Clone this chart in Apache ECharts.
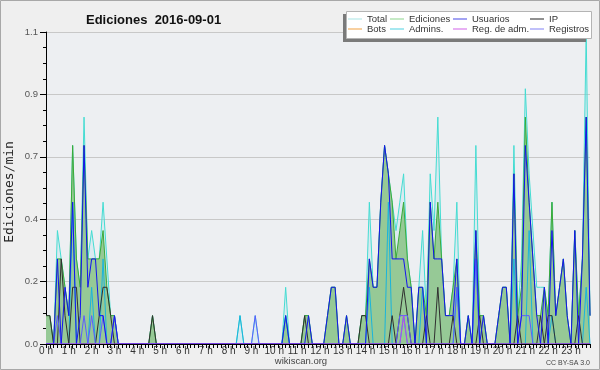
<!DOCTYPE html>
<html><head><meta charset="utf-8">
<script src="https://cdn.jsdelivr.net/npm/echarts@6/dist/echarts.min.js"></script>
<style>html,body{margin:0;padding:0;background:#efefef}#c{width:600px;height:370px}</style>
</head><body><div id="c"></div>
<script>
// ---- data (10-minute buckets, edits per minute) ----
const hourLabels = ["0 h","1 h","2 h","3 h","4 h","5 h","6 h","7 h","8 h","9 h","10 h","11 h",
  "12 h","13 h","14 h","15 h","16 h","17 h","18 h","19 h","20 h","21 h","22 h","23 h"];
const minuteSlots = ["00","10","20","30","40","50"];
const yTickLabels = ["0.0","0.2","0.4","0.7","0.9","1.1"];

const total = [
 .1,.1,0,.4,.3,.2,.1,.7,.3,.2,.8,.3,   .4,.3,.3,.5,.3,.1,.1,0,0,0,0,0,
 0,0,0,0,.1,0,0,0,0,0,0,0,             0,0,0,0,0,0,0,0,0,0,0,0,
 0,0,0,.1,0,0,0,.1,0,0,0,0,            0,0,0,.2,0,0,0,0,.1,.1,0,0,
 0,0,.1,.2,.2,0,0,.1,0,0,0,.1,         .1,.5,.2,.2,.5,.7,.6,.5,.4,.5,.6,.3,
 .2,0,.2,.4,.1,.6,.4,.8,.3,.1,.1,.2,   .5,0,0,.1,0,.7,.1,.1,0,0,0,.1,
 .2,.2,0,.7,.1,.3,.9,.6,.4,.2,.2,.2,   .1,.5,.1,.2,.3,.1,0,.4,.1,.3,1.1,.1];
const ediciones = [
 .1,.1,0,.3,.3,.2,.1,.7,.3,.2,.7,.3,   .3,.3,.3,.4,.2,.1,.1,0,0,0,0,0,
 0,0,0,0,.1,0,0,0,0,0,0,0,             0,0,0,0,0,0,0,0,0,0,0,0,
 0,0,0,0,0,0,0,0,0,0,0,0,              0,0,0,.1,0,0,0,0,.1,.1,0,0,
 0,0,.1,.2,.2,0,0,.1,0,0,0,.1,         .1,.3,.2,.2,.5,.7,.6,.5,.3,.4,.5,.3,
 .2,0,.2,.2,.1,.5,.3,.5,.3,.1,.1,.2,   .3,0,0,.1,0,.4,.1,.1,0,0,0,.1,
 .2,.2,0,.6,.1,.2,.8,.5,.3,.1,.1,.2,   .1,.5,.1,.2,.3,.1,0,.4,.1,.3,.8,.1];
const usuarios = [
 0,0,0,.3,0,.2,.1,.5,0,.1,.7,.2,       .3,.3,.1,.1,0,0,.1,0,0,0,0,0,
 0,0,0,0,0,0,0,0,0,0,0,0,              0,0,0,0,0,0,0,0,0,0,0,0,
 0,0,0,0,0,0,0,0,0,0,0,0,              0,0,0,.1,0,0,0,0,0,.1,0,0,
 0,0,.1,.2,.2,0,0,.1,0,0,0,0,          0,.3,.2,.2,.5,.7,.6,.3,.3,.3,.3,.2,
 .2,0,.2,.2,0,.5,.3,.3,.3,.1,.1,.1,    .3,0,0,.1,0,.4,0,.1,0,0,0,.1,
 .2,.2,0,.6,0,.1,.7,.5,.3,.1,0,.2,     0,.4,.1,.2,.3,.1,0,.4,0,.3,.8,.1];
const ip = [
 .1,.1,0,0,.3,.1,0,.2,.2,0,0,0,        0,0,.1,.2,.2,.1,0,0,0,0,0,0,
 0,0,0,0,.1,0,0,0,0,0,0,0,             0,0,0,0,0,0,0,0,0,0,0,0,
 0,0,0,0,0,0,0,0,0,0,0,0,              0,0,0,0,0,0,0,0,.1,0,0,0,
 0,0,0,0,0,0,0,0,0,0,0,.1,             .1,0,0,0,0,0,0,.1,0,.1,.2,.1,
 0,0,0,0,.1,0,0,.2,0,0,0,.1,           0,0,0,0,0,0,.1,0,0,0,0,0,
 0,0,0,0,.1,0,0,0,0,0,.1,0,            .1,.1,0,0,0,0,0,0,.1,0,0,0];
const bots = [
 0,0,0,0,0,0,0,0,0,0,0,0, 0,0,0,0,0,0,0,0,0,0,0,0,
 0,0,0,0,0,0,0,0,0,0,0,0, 0,0,0,0,0,0,0,0,0,0,0,0,
 0,0,0,0,0,0,0,0,0,0,0,0, 0,0,0,0,0,0,0,0,0,0,0,0,
 0,0,0,0,0,0,0,0,0,0,0,0, 0,0,0,0,0,0,0,0,0,0,0,0,
 0,0,0,0,0,0,0,0,0,0,0,0, 0,0,0,0,0,0,0,0,0,0,0,0,
 0,0,0,0,0,0,0,0,0,0,0,0, 0,0,0,0,0,0,0,0,0,0,0,0];
const admins = [
 0,0,0,0,0,0,0,.5,0,0,0,0,             .2,0,0,.3,0,0,0,0,0,0,0,0,
 0,0,0,0,0,0,0,0,0,0,0,0,              0,0,0,0,0,0,0,0,0,0,0,0,
 0,0,0,.1,0,0,0,0,0,0,0,0,             0,0,0,.1,0,0,0,0,0,0,0,0,
 0,0,0,0,0,0,0,0,0,0,0,0,              0,.2,0,0,0,0,.5,0,0,0,.1,0,
 0,0,0,.2,0,0,0,0,0,0,0,0,             .2,0,0,0,0,.3,0,0,0,0,0,0,
 0,0,0,.3,0,0,0,.4,0,0,0,0,            0,.1,0,0,0,0,0,0,0,0,.2,0];
const regAdm = [
 0,0,0,0,0,0,0,0,0,0,0,0, 0,0,0,0,0,0,0,0,0,0,0,0,
 0,0,0,0,0,0,0,0,0,0,0,0, 0,0,0,0,0,0,0,0,0,0,0,0,
 0,0,0,0,0,0,0,0,0,0,0,0, 0,0,0,0,0,0,0,0,0,0,0,0,
 0,0,0,0,0,0,0,0,0,0,0,0, 0,0,0,0,0,0,0,0,0,0,.1,0,
 0,0,0,0,0,0,0,0,0,0,0,0, 0,0,0,0,0,0,0,0,0,0,0,0,
 0,0,0,0,0,0,0,0,0,0,0,0, 0,0,0,0,0,0,0,0,0,0,0,0];
const registros = [
 0,0,0,.1,0,0,0,0,0,0,.1,0,            .1,0,0,.1,0,0,.1,0,0,0,0,0,
 0,0,0,0,0,0,0,0,0,0,0,0,              0,0,0,0,0,0,0,0,0,0,0,0,
 0,0,0,0,0,0,0,.1,0,0,0,0,             0,0,0,0,0,0,0,0,0,0,0,0,
 0,0,0,0,0,0,0,0,0,0,0,0,              0,0,0,0,0,0,0,0,0,.1,.1,.1,
 0,0,0,0,0,0,0,0,0,0,0,0,              .2,0,0,0,0,.3,0,0,0,0,0,0,
 0,0,0,0,0,.1,.1,.1,0,0,0,0,           0,0,0,0,0,0,0,0,0,0,0,0];

const seriesNames = ["Total","Ediciones","Usuarios","IP","Bots","Admins.","Reg. de adm.","Registros"];
const seriesColors = ["#44dcd2","#3aaa3a","#1414ee","#303030","#f39a2a","#1ab4dc","#c040f0","#5c5cff"];
const legendColors = ["#a8e4e4","#8cd48c","#4646e6","#222222","#f0a040","#4cd0e0","#d060e8","#8080f4"];

// categories built from the hour / minute labels
const categories = [];
hourLabels.forEach(h => minuteSlots.forEach(m => categories.push(h.replace(' h','') + ':' + m)));

const chart = echarts.init(document.getElementById('c'), null, {renderer:'canvas'});
const FONT = 'Liberation Sans';

function lineSeries(name, data, idx, z, extra) {
  return Object.assign({
    name, type:'line', data, symbol:'none', z,
    lineStyle:{width:1, color:seriesColors[idx]},
    itemStyle:{color:seriesColors[idx]},
    emphasis:{disabled:true}, animation:false
  }, extra || {});
}

const legendX = [348, 390, 453, 530];
const legendY = [14, 24];
const legends = seriesNames.map((n, k) => ({
  data:[{name:n, itemStyle:{color:legendColors[k]}}],
  left: legendX[k % 4], top: legendY[Math.floor(k / 4)],
  icon:'rect', itemWidth:14, itemHeight:1, itemGap:0, padding:0,
  selectedMode:false, z:200,
  textStyle:{fontFamily:FONT, fontSize:9.5, color:'#333'}
}));

chart.setOption({
  backgroundColor:'#efefef',
  animation:false,
  title:{text:'Ediciones  2016-09-01', left:81, top:9,
    textStyle:{fontFamily:FONT, fontWeight:'bold', fontSize:13, color:'#111'}},
  legend: legends,
  grid:{left:46, right:10, top:32, bottom:26, show:true, backgroundColor:'#edeff2', borderWidth:0},
  xAxis:{type:'category', data:categories, boundaryGap:false, z:10,
    axisLine:{lineStyle:{color:'#000', width:1}},
    axisTick:{show:true, interval:0, length:4, lineStyle:{color:'#000'}},
    axisLabel:{interval:5, margin:2, fontFamily:FONT, fontSize:10, color:'#333',
      formatter:(v) => v.split(':')[0] + ' h'},
    splitLine:{show:false}},
  yAxis:{type:'value', min:0, max:1.1, interval:0.22,
    axisLine:{show:true, lineStyle:{color:'#000'}},
    axisTick:{show:true, length:6, lineStyle:{color:'#000'}},
    minorTick:{show:true, splitNumber:4, length:3, lineStyle:{color:'#000'}},
    axisLabel:{margin:8, fontFamily:FONT, fontSize:9.5, color:'#555',
      formatter:(v) => yTickLabels[Math.round(v / 0.22)]},
    splitLine:{show:true, lineStyle:{color:'#c8c8c8', width:1}}},
  series:[
    lineSeries('Total', total, 0, 2, {areaStyle:{color:'rgba(170,222,236,0.4)'}}),
    lineSeries('Ediciones', ediciones, 1, 3, {areaStyle:{color:'#96c996', opacity:1}}),
    lineSeries('Bots', bots, 4, 1),
    lineSeries('Admins.', admins, 5, 4),
    lineSeries('IP', ip, 3, 5),
    lineSeries('Registros', registros, 7, 6),
    lineSeries('Usuarios', usuarios, 2, 7),
    lineSeries('Reg. de adm.', regAdm, 6, 8)
  ],
  graphic:[
    {type:'rect', z:100, shape:{x:343, y:14, width:243, height:28}, style:{fill:'#7a7a7a'}},
    {type:'rect', z:101, shape:{x:346.5, y:11.5, width:245, height:27}, style:{fill:'#ffffff', stroke:'#b4b4b4', lineWidth:1}},
    {type:'text', z:100, x:10, y:192, rotation:Math.PI/2,
      style:{text:'Ediciones/min', fontFamily:'DejaVu Sans Mono', fontSize:13, fill:'#222', align:'center', verticalAlign:'middle'}},
    {type:'text', z:100, x:301, y:361, style:{text:'wikiscan.org', fontFamily:FONT, fontSize:9.5, fill:'#444', align:'center', verticalAlign:'middle'}},
    {type:'text', z:100, x:590, y:363, style:{text:'CC BY-SA 3.0', fontFamily:FONT, fontSize:7, fill:'#444', align:'right', verticalAlign:'middle'}},
    {type:'rect', z:100, shape:{x:0.5, y:0.5, width:599, height:369}, style:{fill:null, stroke:'#a8a8a8', lineWidth:1}}
  ]
});
</script></body></html>
